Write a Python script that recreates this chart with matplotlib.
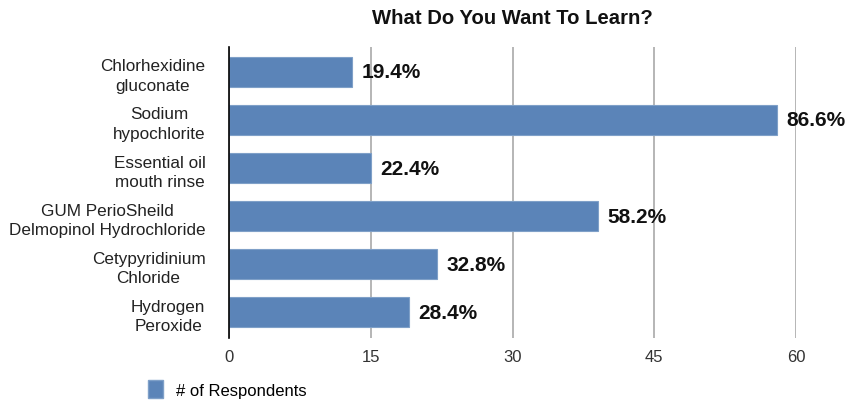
import matplotlib.pyplot as plt
from matplotlib.patches import Patch

plt.rcParams['font.family'] = ['Liberation Sans', 'DejaVu Sans']

categories = ['Chlorhexidine\ngluconate', 'Sodium\nhypochlorite', 'Essential oil\nmouth rinse',
              'GUM PerioSheild\nDelmopinol Hydrochloride', 'Cetypyridinium\nChloride',
              'Hydrogen\nPeroxide']
respondents = [13, 58, 15, 39, 22, 19]
percent_labels = ['19.4%', '86.6%', '22.4%', '58.2%', '32.8%', '28.4%']
x_ticks = [0, 15, 30, 45, 60]

bar_color = '#5b84b8'

fig = plt.figure(figsize=(8.48, 4.02), dpi=100)
ax = fig.add_axes([229 / 848, 1 - 339 / 402, (796 - 229) / 848, (339 - 48) / 402])

ypos = list(range(len(categories)))
ax.barh(ypos, respondents, height=0.625, color=bar_color, edgecolor='#7fa0c8', linewidth=0.8, zorder=3)

for y, v, lab in zip(ypos, respondents, percent_labels):
    ax.text(v + 1.0, y, lab, va='center', ha='left', fontsize=15, fontweight='bold',
            color='#111111', clip_on=False, zorder=4)

ax.set_xlim(0, 60)
ax.set_ylim(5.54, -0.52)
ax.set_xticks(x_ticks)
ax.set_xticklabels([str(t) for t in x_ticks], fontsize=12, color='#333333')
ax.set_yticks(ypos)
ax.set_yticklabels(categories, fontsize=12.3, color='#222222', multialignment='center',
                   linespacing=1.4)
ax.tick_params(axis='both', length=0)
ax.tick_params(axis='y', pad=17)
ax.tick_params(axis='x', pad=8)

ax.grid(axis='x', color='#b5b5b5', linewidth=1.4, zorder=0)
for s in ['top', 'right', 'bottom']:
    ax.spines[s].set_visible(False)
ax.spines['left'].set_color('black')
ax.spines['left'].set_linewidth(1.2)
ax.spines['left'].set_zorder(5)

fig.text(512 / 848, 1 - 18 / 402, 'What Do You Want To Learn?', ha='center', va='center',
         fontsize=14.6, fontweight='bold', color='#111111')

fig.legend(handles=[Patch(facecolor=bar_color, edgecolor='#7fa0c8', label='# of Respondents')],
           loc='center left', bbox_to_anchor=(133 / 848, 1 - 390 / 402), frameon=False,
           fontsize=12, handlelength=0.9, handleheight=1.2, handletextpad=0.8)

fig.savefig('out.png', dpi=100)
